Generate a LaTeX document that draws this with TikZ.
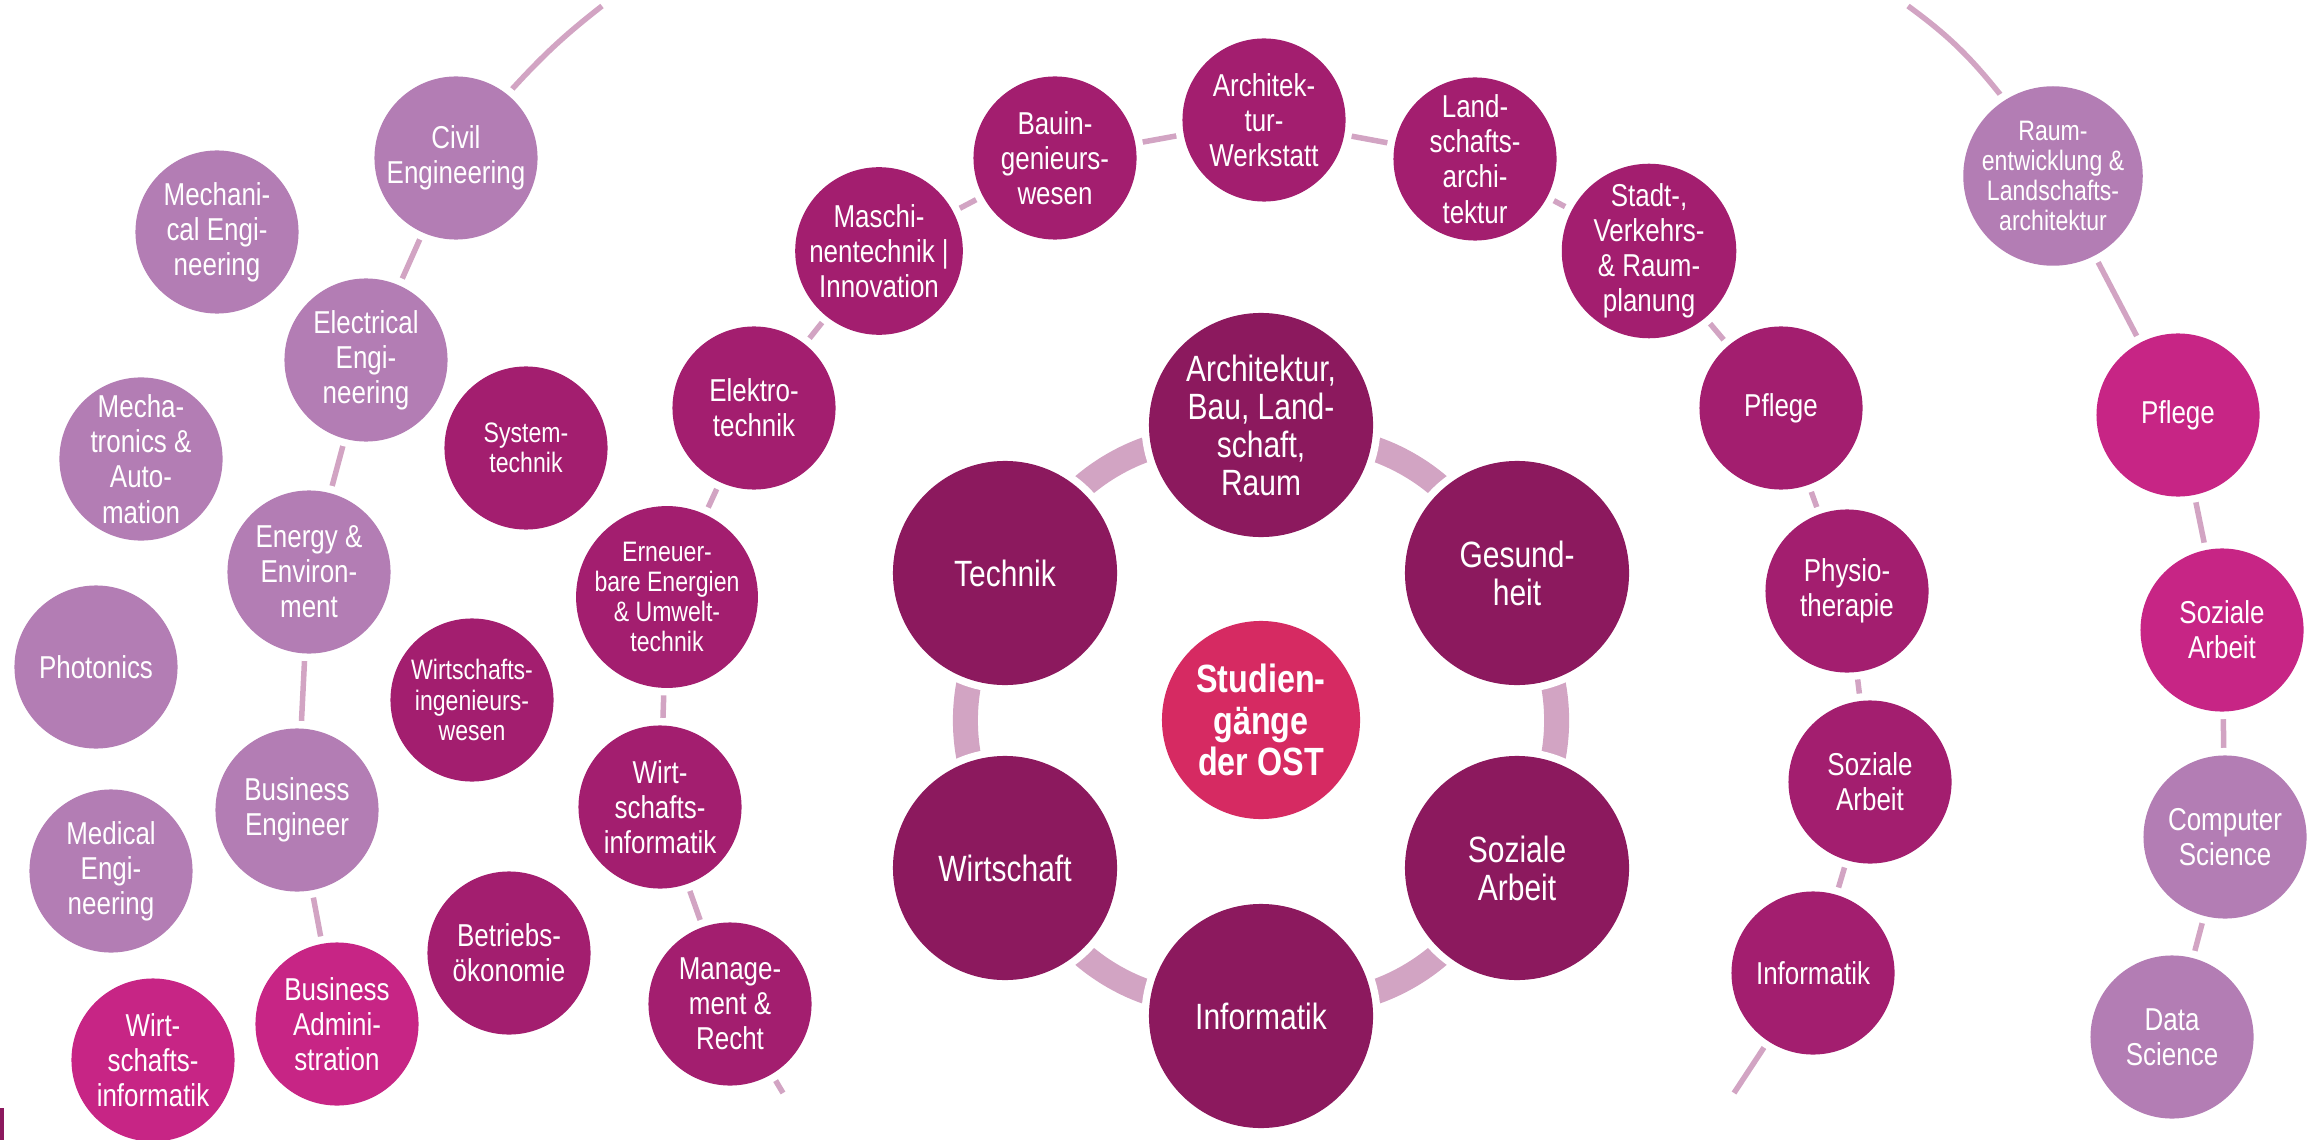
\documentclass[tikz,border=0pt]{standalone}
\usepackage{fontspec}
\setmainfont{Liberation Sans}[FakeStretch=0.82]
\usetikzlibrary{backgrounds}
\definecolor{hexc}{HTML}{8C195E}
\definecolor{ringc}{HTML}{A31E6F}
\definecolor{lavc}{HTML}{B37DB4}
\definecolor{pinkc}{HTML}{C72585}
\definecolor{hubc}{HTML}{D62A62}
\definecolor{linkc}{HTML}{D2A4C3}

\begin{document}
\begin{tikzpicture}[x=0.01cm, y=-0.01cm,
  ring/.style={circle, inner sep=0pt, outer sep=0pt, align=center, text=white, preaction={draw=white, line width=0.15cm}},
  prog/.style={ring, minimum size=1.63cm, font=\fontsize{9}{10}\selectfont},
  progs/.style={prog, font=\fontsize{8}{8.6}\selectfont},
  dept/.style={ring, fill=hexc, minimum size=2.24cm, preaction={draw=white, line width=0.1cm}, font=\fontsize{10.4}{10.8}\selectfont},
  link/.style={draw=linkc, line width=0.055cm, shorten <=-0.1cm, shorten >=-0.1cm},
  tail/.style={draw=linkc, line width=0.055cm, shorten >=-0.1cm},
  deptlink/.style={draw=linkc, line width=0.25cm, shorten <=-0.2cm, shorten >=-0.2cm}]
\useasboundingbox (0,0) rectangle (2316,1140);

% centre and departments
\node[ring, fill=hubc, minimum size=1.98cm, font=\bfseries\fontsize{11.2}{11.7}\selectfont] (hub) at (1261,720) {Studien-\\gänge\\der OST};
\node[dept] (arch) at (1261,425) {Architektur,\\Bau, Land-\\schaft,\\Raum};
\node[dept] (ges) at (1517,573) {Gesund-\\heit};
\node[dept] (soz) at (1517,868) {Soziale\\Arbeit};
\node[dept] (inf) at (1261,1016) {Informatik};
\node[dept] (wirt) at (1005,868) {Wirtschaft};
\node[dept] (tech) at (1005,573) {Technik};

% english programmes, left
\node[prog, fill=lavc] (civ) at (456,158) {Civil\\Engineering};
\node[prog, fill=lavc] (mech) at (217,232) {Mechani-\\cal Engi-\\neering};
\node[prog, fill=lavc] (elec) at (366,360) {Electrical\\Engi-\\neering};
\node[prog, fill=lavc] (mtron) at (141,459) {Mecha-\\tronics \&\\Auto-\\mation};
\node[prog, fill=lavc] (ener) at (309,572) {Energy \&\\Environ-\\ment};
\node[prog, fill=lavc] (phot) at (96,667) {Photonics};
\node[prog, fill=lavc] (beng) at (297,810) {Business\\Engineer};
\node[prog, fill=lavc] (med) at (111,871) {Medical\\Engi-\\neering};
\node[prog, fill=pinkc] (badm) at (337,1024) {Business\\Admini-\\stration};
\node[prog, fill=pinkc] (winfa) at (153,1060) {Wirt-\\schafts-\\informatik};
\fill[hexc] (0,1108) rectangle (4,1140);

% bachelor ring
\node[progs, fill=ringc] (syst) at (526,448) {System-\\technik};
\node[progs, fill=ringc] (wing) at (472,700) {Wirtschafts-\\ingenieurs-\\wesen};
\node[prog, fill=ringc] (boek) at (509,953) {Betriebs-\\ökonomie};
\node[prog, fill=ringc] (mgmt) at (730,1004) {Manage-\\ment \&\\Recht};
\node[prog, fill=ringc] (winf) at (660,807) {Wirt-\\schafts-\\informatik};
\node[progs, fill=ringc] (ee) at (667,597) {Erneuer-\\bare Energien\\\& Umwelt-\\technik};
\node[prog, fill=ringc] (etec) at (754,408) {Elektro-\\technik};
\node[prog, fill=ringc] (masch) at (879,251) {Maschi-\\nentechnik |\\Innovation};
\node[prog, fill=ringc] (bau) at (1055,158) {Bauin-\\genieurs-\\wesen};
\node[prog, fill=ringc] (awerk) at (1264,120) {Architek-\\tur-\\Werkstatt};
\node[prog, fill=ringc] (land) at (1475,159) {Land-\\schafts-\\archi-\\tektur};
\node[prog, fill=ringc] (stadt) at (1649,251) {Stadt-,\\Verkehrs-\\\& Raum-\\planung};
\node[prog, fill=ringc] (pfl) at (1781,408) {Pflege};
\node[prog, fill=ringc] (phys) at (1847,591) {Physio-\\therapie};
\node[prog, fill=ringc] (sozb) at (1870,782) {Soziale\\Arbeit};
\node[prog, fill=ringc] (infb) at (1813,973) {Informatik};

% master programmes, right
\node[progs, fill=lavc] (raum) at (2053,176) {Raum-\\entwicklung \&\\Landschafts-\\architektur};
\node[prog, fill=pinkc] (pflr) at (2178,415) {Pflege};
\node[prog, fill=pinkc] (sozr) at (2222,630) {Soziale\\Arbeit};
\node[prog, fill=lavc] (cs) at (2225,837) {Computer\\Science};
\node[prog, fill=lavc] (ds) at (2172,1037) {Data\\Science};

\coordinate (lt) at (602,6);
\coordinate (rt) at (1908,6);
\coordinate (mb) at (783,1093);
\coordinate (ib) at (1734,1093);

\begin{scope}[on background layer]
\foreach \a/\b in {tech/arch, arch/ges, ges/soz, soz/inf, inf/wirt, wirt/tech}
  \draw[deptlink] (\a) to[bend left=19, looseness=0.6] (\b);
\foreach \a/\b in {civ/elec, elec/ener, ener/beng, beng/badm, mgmt/winf, winf/ee, ee/etec, etec/masch, masch/bau, bau/awerk, awerk/land, land/stadt, stadt/pfl, pfl/phys, phys/sozb, sozb/infb, raum/pflr, pflr/sozr, sozr/cs, cs/ds}
  \draw[link] (\a) -- (\b);
\draw[tail] (lt) to[bend right=5] (civ);
\draw[tail] (rt) to[bend left=8] (raum);
\draw[tail] (mb) -- (mgmt);
\draw[tail] (ib) -- (infb);
\end{scope}
\end{tikzpicture}
\end{document}
